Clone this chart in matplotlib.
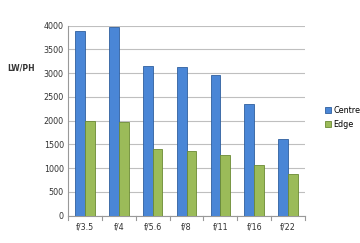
import numpy as np
import matplotlib
matplotlib.use("Agg")
import matplotlib.pyplot as plt

# Data
apertures = ["f/3.5", "f/4", "f/5.6", "f/8", "f/11", "f/16", "f/22"]
centre = [3880, 3975, 3150, 3130, 2955, 2350, 1620]
edge = [1995, 1980, 1400, 1355, 1270, 1060, 875]
yticks = [0, 500, 1000, 1500, 2000, 2500, 3000, 3500, 4000]

fig = plt.figure(figsize=(3.6, 2.43), dpi=100)
ax = fig.add_axes([68 / 360, 1 - 215.7 / 243, 237 / 360, 190 / 243])

x = np.arange(len(apertures))
w = 0.29
b1 = ax.bar(x - w / 2, centre, w, color="#4A86D6", edgecolor="#2F5F9E", linewidth=0.6, label="Centre", zorder=3)
b2 = ax.bar(x + w / 2, edge, w, color="#9BBB59", edgecolor="#6B8A33", linewidth=0.6, label="Edge", zorder=3)

ax.set_xlim(-0.5, len(apertures) - 0.5)
ax.set_ylim(0, 4000)
ax.set_yticks(yticks)
ax.set_xticks(x)
ax.set_xticklabels(apertures)
ax.tick_params(labelsize=5.8, colors="#333333", length=0, pad=3)
ax.tick_params(axis="x", pad=5)
ax.grid(axis="y", color="#BFBFBF", linewidth=0.8, zorder=0)
for s in ["top", "right"]:
    ax.spines[s].set_visible(False)
ax.spines["left"].set_color("#999999")
ax.spines["bottom"].set_color("#999999")
# category separator ticks
for xs in np.arange(-0.5, len(apertures), 1.0):
    ax.plot([xs, xs], [0, -90], color="#999999", linewidth=0.8, clip_on=False)

fig.text(21 / 360, 1 - 68 / 243, "LW/PH", fontsize=5.5, fontweight="bold", color="#333333", ha="center", va="center")

fig.legend(handles=[b1, b2], loc="upper left", bbox_to_anchor=(321 / 360, 1 - 102 / 243),
           frameon=False, fontsize=5.8, handlelength=0.7, handleheight=0.7, handletextpad=0.3,
           labelspacing=0.6, borderpad=0)

fig.savefig("out.png", dpi=100)
